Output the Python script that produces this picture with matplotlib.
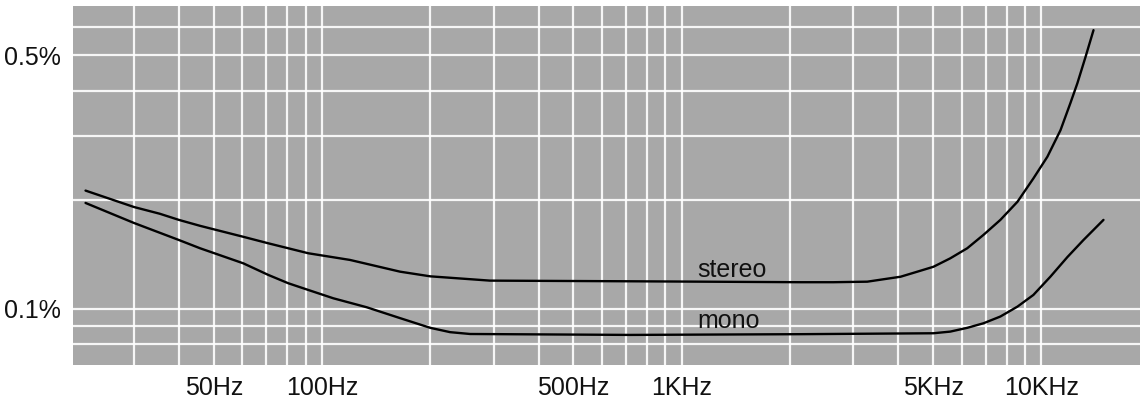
import matplotlib.pyplot as plt
from matplotlib.ticker import FixedLocator, NullFormatter

# Distortion vs frequency
stereo_freq = [22, 30, 35.4, 40, 45.8, 60.4, 70.9, 91.6, 119.6, 164.8, 200,
               293, 719, 2140, 2640, 3280, 4060, 4520, 5010, 5580, 6220, 6900,
               7690, 8580, 9500, 10390, 11300, 12040, 12590, 13260, 13960]
stereo_dist = [0.212, 0.191, 0.183, 0.176, 0.1695, 0.1581, 0.1517, 0.1424,
               0.1365, 0.1267, 0.123, 0.1197, 0.1192, 0.1185, 0.1185, 0.1189,
               0.1227, 0.1267, 0.1307, 0.1379, 0.147, 0.160, 0.176, 0.1975,
               0.229, 0.2628, 0.311, 0.3694, 0.419, 0.4947, 0.587]

mono_freq = [22, 30, 40, 45.8, 60.4, 70.9, 80.6, 91.6, 107.5, 133, 165, 200,
             227, 258, 719, 2140, 5010, 5580, 6220, 6900, 7690, 8580, 9500,
             10590, 11810, 13090, 14880]
mono_dist = [0.196, 0.1726, 0.1549, 0.147, 0.1336, 0.1241, 0.1177, 0.1128,
             0.1070, 0.1011, 0.0943, 0.0887, 0.0863, 0.0853, 0.0848, 0.0852,
             0.0857, 0.0866, 0.0887, 0.0913, 0.0953, 0.1015, 0.1093, 0.1227,
             0.139, 0.1549, 0.176]

x_ticks = [50, 100, 500, 1000, 5000, 10000]
x_labels = ['50Hz', '100Hz', '500Hz', '1KHz', '5KHz', '10KHz']
x_grid = [20, 30, 40, 60, 70, 80, 90, 200, 300, 400, 600, 700, 800, 900,
          2000, 3000, 4000, 6000, 7000, 8000, 9000]

y_ticks = [0.1, 0.5]
y_labels = ['0.1%', '0.5%']
y_grid = [0.08, 0.09, 0.2, 0.3, 0.4, 0.6]

plt.rcParams['font.family'] = ['Liberation Sans', 'DejaVu Sans']

fig = plt.figure(figsize=(11.4, 4.05), dpi=100)
ax = fig.add_axes([0.064, 0.099, 0.936, 0.886])
ax.set_facecolor('#a8a8a8')

ax.plot(stereo_freq, stereo_dist, color='black', lw=1.7, solid_capstyle='round')
ax.plot(mono_freq, mono_dist, color='black', lw=1.7, solid_capstyle='round')

ax.set_xscale('log')
ax.set_yscale('log')
ax.set_xlim(20.3, 18800)
ax.set_ylim(0.0701, 0.684)

ax.xaxis.set_major_locator(FixedLocator(x_ticks))
ax.xaxis.set_minor_locator(FixedLocator(x_grid))
ax.set_xticklabels(x_labels)
ax.xaxis.set_minor_formatter(NullFormatter())
ax.yaxis.set_major_locator(FixedLocator(y_ticks))
ax.yaxis.set_minor_locator(FixedLocator(y_grid))
ax.set_yticklabels(y_labels)
ax.yaxis.set_minor_formatter(NullFormatter())

ax.tick_params(which='both', length=0)
ax.tick_params(axis='x', pad=8, labelsize=18, labelcolor='#111111')
ax.tick_params(axis='y', pad=9, labelsize=18, labelcolor='#111111')

ax.grid(True, which='both', color='white', lw=1.6, alpha=0.9)
ax.set_axisbelow(True)
for s in ax.spines.values():
    s.set_visible(False)

ax.text(1104, 0.128, 'stereo', fontsize=18, ha='left', va='center', color='#111111')
ax.text(1104, 0.0927, 'mono', fontsize=18, ha='left', va='center', color='#111111')

fig.savefig('out.png', dpi=100)
